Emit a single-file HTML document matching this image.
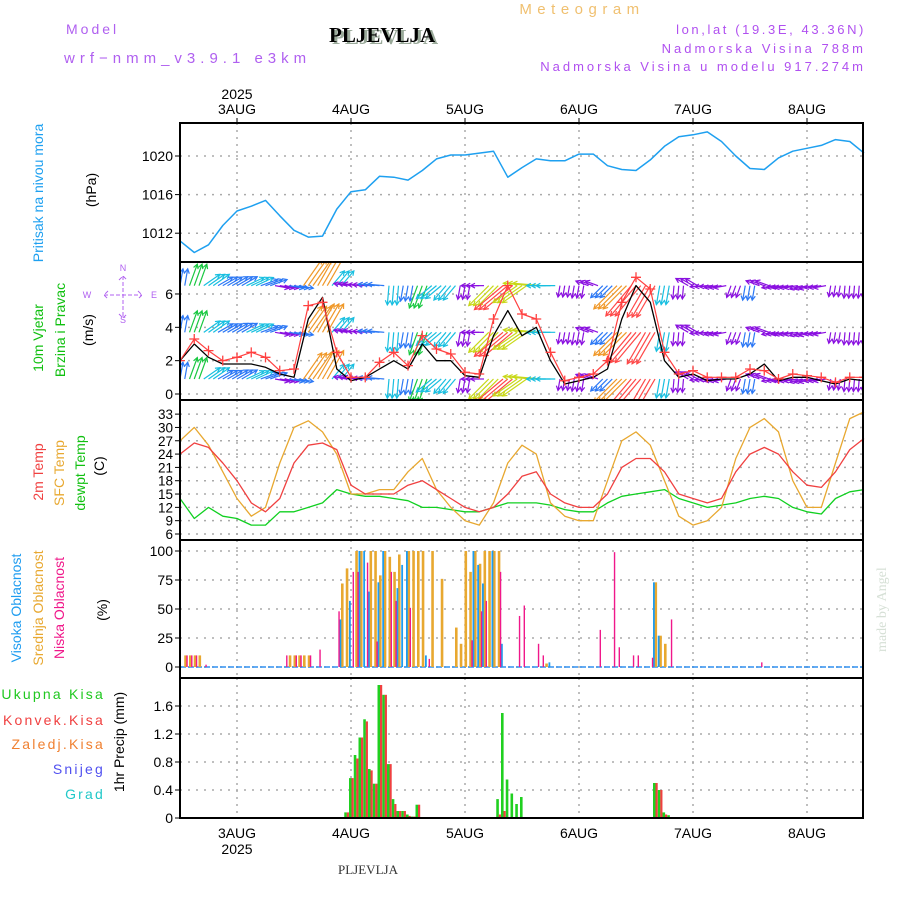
<!DOCTYPE html>
<html><head><meta charset="utf-8"><style>
html,body{margin:0;padding:0;background:#fff;}
svg{display:block;font-family:"Liberation Sans",sans-serif;}
</style></head><body>
<svg id="chart" width="900" height="900" viewBox="0 0 900 900" xmlns="http://www.w3.org/2000/svg">
<rect x="0" y="0" width="900" height="900" fill="#fff"/>
<text x="66" y="34" font-size="14" fill="#b060f0" letter-spacing="3">Model</text>
<text x="64" y="63" font-size="15" fill="#b060f0" letter-spacing="5">wrf−nmm_v3.9.1 e3km</text>
<text x="332" y="44" font-family="Liberation Serif,serif" font-weight="bold" font-size="21" fill="#9aaa9a">PLJEVLJA</text>
<text x="329" y="42" font-family="Liberation Serif,serif" font-weight="bold" font-size="21" fill="#000">PLJEVLJA</text>
<text x="582" y="14" font-size="15" fill="#f0c070" text-anchor="middle" letter-spacing="5.5">Meteogram</text>
<text x="866" y="34" font-size="13" fill="#b050f0" text-anchor="end" letter-spacing="2.6">lon,lat (19.3E, 43.36N)</text>
<text x="866" y="53" font-size="13" fill="#b050f0" text-anchor="end" letter-spacing="3">Nadmorska Visina 788m</text>
<text x="866" y="71" font-size="13" fill="#b050f0" text-anchor="end" letter-spacing="3">Nadmorska Visina u modelu 917.274m</text>
<text transform="translate(886,652) rotate(-90)" font-family="Liberation Serif,serif" font-size="14" fill="#d6e0d6">made by Angel</text>
<text x="368" y="874" font-family="Liberation Serif,serif" font-size="13" fill="#333" text-anchor="middle">PLJEVLJA</text>
<g id="g"></g>
</svg>
<script>
// ---------- data (3-hourly from 2 Aug 12UTC) ----------
const pressureVals=[1011.2,1010,1010.8,1012.8,1014.3,1014.8,1015.4,1013.8,1012.3,1011.6,1011.7,1014.5,1016.3,1016.5,1017.9,1017.8,1017.5,1018.5,1019.7,1020.1,1020.1,1020.3,1020.5,1017.8,1018.8,1019.7,1019.5,1019.5,1020.2,1020.2,1019.0,1018.6,1018.5,1019.6,1021.0,1022.0,1022.2,1022.5,1021.5,1020.0,1018.7,1018.6,1019.8,1020.5,1020.8,1021.1,1021.7,1021.5,1020.3];
const windSpeed=[2.0,3.3,2.6,2.0,2.2,2.5,2.2,1.4,1.5,5.3,5.5,2.5,1.0,1.0,1.9,2.5,1.7,3.5,2.7,2.4,1.3,1.2,4.5,6.5,4.8,4.5,2.5,0.8,1.0,1.2,2.0,5.5,7.0,6.3,2.5,1.2,1.4,1.0,1.0,1.0,1.5,1.4,0.9,1.2,1.1,1.0,0.7,1.0,1.0];
const windMean=[2.0,3.0,2.2,1.8,1.8,1.8,1.6,1.2,1.0,4.5,5.8,1.5,0.8,1.0,1.5,2.0,1.5,3.0,2.0,2.0,1.1,1.0,3.5,5.0,3.5,4.0,2.0,0.6,0.8,1.0,1.5,4.5,6.5,5.5,2.0,1.0,1.2,0.8,0.9,0.9,1.2,1.8,0.8,1.0,1.0,0.8,0.6,0.9,0.8];
const windDir=[80,70,35,30,30,25,20,-10,-10,55,60,50,170,175,175,-95,-100,-110,-140,-130,-100,180,-135,-140,-145,175,180,-100,-100,160,-135,-135,-130,-120,-100,-95,150,185,190,-110,-100,160,190,190,195,190,-100,-95,-95];
const temp2m=[24,26.5,25.5,22,18,13,11,14,22,26,26.5,25,17,15,15,15,17,18,16,14,12,11,12,15,19,20,15,13,12,12,15,21,23,23,20,15,14,13,14,20,24,25.5,24,20,17,16.5,20,25,27.5];
const tempSfc=[27,30,26,20,14,10,12,22,30,31.5,29,24,15,15,16,16,20,23,16,12,9,8,13,22,26,24,13,10,9,9,18,27,29,26,18,10,8,9,12,23,30,32,29,18,12,12,22,32,33.5];
const tempDew=[14,9.5,12,10,9.5,8,8,11,11,12,13,16,15,14.5,14.5,14,13.5,12,12,11.5,11,11,12,13,13,13,12.5,11.5,11,11,13,14.5,15,15.5,16,14,13,12,12.5,13,14,14.5,14,12,11,10.5,14,15.5,16];
// clouds (hour index, percent)
const highHours=[34,36,38,39,40,42,43,46,47,48,52,62,63,64,66,68,78,100,101];
const highVals=[41,57,100,100,65,73,100,68,88,100,10,100,88,72,100,20,4,73,27];
const midHours=[1,2,3,4,23,24,25,26,27,34,35,37,38,40,41,42,43,44,45,46,48,49,50,51,53,55,58,59,60,61,62,63,64,65,66,67,77,100,101,102];
const midVals=[10,10,10,10,10,10,10,10,10,72,85,100,100,100,100,79,100,95,82,97,100,100,100,100,100,76,34,20,100,82,100,89,100,100,100,100,3,73,27,20];
const lowHours=[1,2,3,5,22,24,25,27,29,33,36,37,39,41,44,45,48,52,61,63,64,67,71,72,75,76,88,91,92,95,96,99,103,122];
const lowVals=[10,10,10,2,10,10,10,10,15,48,82,82,90,22,82,57,51,7,23,48,57,82,44,53,20,10,32,99,17,10,10,8,41,4];
// precipitation (hour index, mm)
const precipHours=[35,36,37,38,39,40,41,42,43,44,45,46,47,48,49,50,67,68,69,70,71,72,100,101,102,103];
const precipTotal=[0.08,0.57,0.9,1.15,1.41,0.7,0.49,1.9,1.76,0.77,0.27,0.1,0.1,0.05,0.02,0.19,0.27,1.5,0.55,0.35,0.2,0.3,0.5,0.4,0.08,0.04];
const precipConv=[0.08,0.57,0.85,1.15,1.38,0.68,0.49,1.9,1.76,0.77,0.2,0.1,0.1,0.03,0.02,0.19,0.05,0.1,0,0,0,0,0.5,0.4,0.05,0];
const dayLabels=["3AUG","4AUG","5AUG","6AUG","7AUG","8AUG"];
const pTicks=[1012,1016,1020];
const wTicks=[0,2,4,6];
const tTicks=[6,9,12,15,18,21,24,27,30,33];
const cTicks=[0,25,50,75,100];
const rTicks=[0,0.4,0.8,1.2,1.6];
// ---------- helpers ----------
const NS="http://www.w3.org/2000/svg";
const G=document.getElementById('g');
function el(tag,attrs,parent){const e=document.createElementNS(NS,tag);for(const k in attrs)e.setAttribute(k,attrs[k]);(parent||G).appendChild(e);return e;}
const X0=180,X1=863,PXH=4.75;
const xH=h=>X0+h*PXH;
const yP=v=>156+(1020-v)*9.65;
const yW=v=>394-v*16.67;
const yT=v=>534-(v-6)*4.44;
const yC=v=>667-v*1.16;
const yR=v=>818-v*70;
const panels=[[123,262],[262,400],[400,540],[540,678],[678,818]];
panels.forEach((p,i)=>{
  for(let d=0;d<6;d++){const x=xH(12+24*d);
    const l=el('line',{x1:x,x2:x,y1:p[0],y2:p[1],stroke:'#aaa','stroke-dasharray':'2,5','stroke-width':1.5});
    }
});
function hgrid(ticks,fy,name,lab){ticks.forEach(t=>{const y=fy(t);
  const l=el('line',{x1:X0,x2:X1,y1:y,y2:y,stroke:'#aaa','stroke-dasharray':'2,6','stroke-width':1.5});
  
  el('line',{x1:X0-5,x2:X0,y1:y,y2:y,stroke:'#000'});
  const tx=el('text',{x:X0-7,y:y+5,'font-size':lab||14,'text-anchor':'end',fill:'#000'});tx.textContent=String(t);
  });}
hgrid(pTicks,yP,'pressure');hgrid(wTicks,yW,'wind');hgrid(tTicks,yT,'temp',13.5);hgrid(cTicks,yC,'cloud');hgrid(rTicks,yR,'precip');
function poly(vals,fy,color,name,w){const pts=vals.map((v,i)=>xH(i*3).toFixed(1)+','+fy(v).toFixed(1)).join(' ');
  const p=el('polyline',{points:pts,fill:'none',stroke:color,'stroke-width':w||1.3,'stroke-linejoin':'round'});
  return p;}
const clip=el('clipPath',{id:'cw'});el('rect',{x:X0,y:263,width:X1-X0,height:136},clip);
poly(pressureVals,yP,'#1ea0f0','pressure-line',1.5);
const wg=el('g',{'clip-path':'url(#cw)'});
function wcol(s){return s<1.5?'#8a10e0':s<2.3?'#2c78f5':s<3.2?'#18bfe0':s<4.2?'#18c840':s<5?'#c8d818':s<6?'#f09828':'#ff4848';}
const rows=[6.5,3.7,0.9];
windDir.forEach((d,i)=>{const s=windSpeed[i];
  for(let k=-1;k<=1;k++){const h=i*3+k;if(h<0||h>144)continue;
    rows.forEach(r=>{const x=xH(h),y=yW(r),L=8+s*4.5,a=d*Math.PI/180;
      const x2=x+L*Math.cos(a),y2=y-L*Math.sin(a);
      const ar=el('g',{},wg);
      
      el('line',{x1:x,y1:y,x2:x2,y2:y2,stroke:wcol(s),'stroke-width':1.2},ar);
      const hx1=x2-5*Math.cos(a-0.5),hy1=y2+5*Math.sin(a-0.5),hx2=x2-5*Math.cos(a+0.5),hy2=y2+5*Math.sin(a+0.5);
      el('polyline',{points:`${hx1},${hy1} ${x2},${y2} ${hx2},${hy2}`,fill:'none',stroke:wcol(s),'stroke-width':1.2},ar);});}
});
const wl=el('g',{'clip-path':'url(#cw)'});
const ml=poly(windMean,yW,'#000','wind-mean-line',1.3);wl.appendChild(ml);
const sl=poly(windSpeed,yW,'#ff4040','wind-speed-line',1.2);wl.appendChild(sl);
windSpeed.forEach((v,i)=>{const x=xH(i*3),y=yW(v);
  const c=el('path',{d:`M${x-5},${y}h10M${x},${y-5}v10`,stroke:'#ff4040','stroke-width':1.3},wl);
  });
poly(tempDew,yT,'#10d020','dewpoint-line');
poly(tempSfc,yT,'#e8a830','sfc-temp-line');
poly(temp2m,yT,'#f04040','temp-2m-line');
function bars(hours,vals,fy,off,color,name,w){hours.forEach((h,i)=>{const x=xH(h)+off,y=fy(vals[i]),y0=fy(0);
  const r=el('rect',{x:x,y:y,width:w||1.6,height:Math.max(0,y0-y),fill:color});
  });}
el('line',{x1:X0,x2:X1,y1:yC(0),y2:yC(0),stroke:'#3090f0','stroke-width':1.5,'stroke-dasharray':'6,2'});
bars(midHours,midVals,yC,-0.5,'#e8a830','cloud-mid-bar',2.6);
bars(highHours,highVals,yC,-2,'#1e9cf0','cloud-high-bar',1.8);
bars(lowHours,lowVals,yC,1.6,'#f0188a','cloud-low-bar',1.4);
el('line',{x1:X0,x2:X1,y1:yR(0),y2:yR(0),stroke:'#222','stroke-width':2,'stroke-dasharray':'6,2'});
bars(precipHours,precipTotal,yR,-2,'#20d020','precip-total-bar',2.6);
bars(precipHours,precipConv,yR,0.5,'#f04040','precip-conv-bar',2.2);
panels.forEach((p,i)=>{const r=el('rect',{x:X0,y:p[0],width:X1-X0,height:p[1]-p[0],fill:'none',stroke:'#000','stroke-width':2});
  });
dayLabels.forEach((d,i)=>{const x=xH(12+24*i);
  let t=el('text',{x:x,y:114,'font-size':14,'text-anchor':'middle'});t.textContent=d;
  
  t=el('text',{x:x,y:838,'font-size':14,'text-anchor':'middle'});t.textContent=d;
  
  el('line',{x1:x,x2:x,y1:118,y2:123,stroke:'#000'});});
let yr=el('text',{x:xH(12),y:99,'font-size':14,'text-anchor':'middle'});yr.textContent='2025';

yr=el('text',{x:xH(12),y:854,'font-size':14,'text-anchor':'middle'});yr.textContent='2025';

function vlab(x,y,txt,color,name,fs){const t=el('text',{transform:`translate(${x},${y}) rotate(-90)`,'font-size':fs||14,'text-anchor':'middle',fill:color});t.textContent=txt;
  }
vlab(43,193,'Pritisak na nivou mora','#1ea0f0','pressure-title');
vlab(96,190,'(hPa)','#000','pressure-unit');
vlab(43,338,'10m Vjetar','#10c010','wind-title');
vlab(65,330,'Brzina i Pravac','#10c010','wind-subtitle');
vlab(93,330,'(m/s)','#000','wind-unit');
vlab(43,472,'2m Temp','#f04040','temp-2m-title');
vlab(64,473,'SFC Temp','#e8a830','temp-sfc-title');
vlab(85,473,'dewpt Temp','#10c010','temp-dew-title');
vlab(104,466,'(C)','#000','temp-unit');
vlab(21,608,'Visoka Oblacnost','#1e9cf0','cloud-high-title');
vlab(43,608,'Srednja Oblacnost','#e8a830','cloud-mid-title');
vlab(64,608,'Niska Oblacnost','#f0188a','cloud-low-title');
vlab(107,610,'(%)','#000','cloud-unit');
vlab(124,742,'1hr Precip (mm)','#000','precip-unit');
[['Ukupna Kisa','#20c820',699],['Konvek.Kisa','#f04040',725],['Zaledj.Kisa','#f08030',749],['Snijeg','#5050f0',774],['Grad','#20c8c8',799]].forEach(a=>{
  const t=el('text',{x:105,y:a[2],'font-size':14,'text-anchor':'end',fill:a[1],'letter-spacing':'2.2'});t.textContent=a[0];
  });
const cg=el('g',{fill:'#b060f0','font-size':9});
[['N',123,271],['W',87,298],['E',154,298],['S',123,323]].forEach(a=>{const t=el('text',{x:a[1],y:a[2],'text-anchor':'middle'},cg);t.textContent=a[0];});
el('path',{d:'M104,295h38M123,276v42M108,291l-4,4l4,4M138,291l4,4l-4,4M119,280l4,-4l4,4M119,314l4,4l4,-4',stroke:'#b060f0',fill:'none','stroke-width':1,'stroke-dasharray':'4,2'},cg);
</script>
</body></html>
